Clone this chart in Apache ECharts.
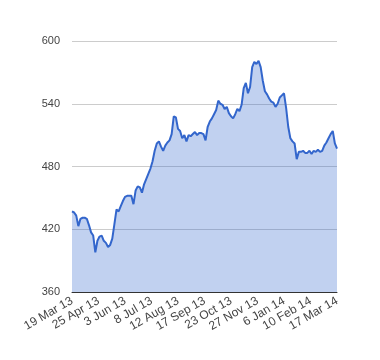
<!DOCTYPE html>
<html>
<head>
<meta charset="utf-8">
<script src="https://cdn.jsdelivr.net/npm/echarts@6/dist/echarts.min.js"></script>
<style>
html,body{margin:0;padding:0;background:#fff;}
#chart{width:380px;height:360px;}
</style>
</head>
<body>
<div id="chart"></div>
<script>
// Tick labels on the x axis (one every 25 trading days)
var tickLabels = ['19 Mar 13','25 Apr 13','3 Jun 13','8 Jul 13','12 Aug 13','17 Sep 13','23 Oct 13','27 Nov 13','6 Jan 14','10 Feb 14','17 Mar 14'];
// Trading days between consecutive sampled values
var sampleStep = 2;
// Closing values, sampled every 2 trading days from 19 Mar 13 to 17 Mar 14
var closeValues = [
  437,436,433,423,430,431,431,430,424,417,
  414,398,409,413,414,409,407,403,405,411,
  425,439,437,442,447,451,452,452,452,444,
  457,461,460,455,463,468,473,478,485,495,
  502,504,499,495,500,503,505,511,528,527,
  516,514,507,510,504,510,509,511,513,510,
  512,512,511,505,518,523,526,530,534,543,
  540,539,535,537,531,528,526,530,535,533,
  539,555,560,550,556,575,580,578,581,575,
  562,552,549,545,542,541,537,540,546,548,
  550,536,518,507,504,502,487,494,494,495,
  493,493,495,492,495,494,496,494,495,500,
  503,507,511,514,502,497
];
var yTicks = {min: 360, max: 600, interval: 60};

var seriesData = closeValues.map(function (v, i) { return [i * sampleStep, v]; });
var lastDay = (closeValues.length - 1) * sampleStep;

var chart = echarts.init(document.getElementById('chart'), null, {renderer: 'canvas'});
chart.setOption({
  animation: false,
  backgroundColor: '#ffffff',
  grid: {left: 72, right: 43, top: 41, bottom: 68, containLabel: false},
  xAxis: {
    type: 'value',
    min: 0,
    max: lastDay,
    interval: 25,
    axisLine: {show: true, lineStyle: {color: '#333333', width: 1}},
    axisTick: {show: false},
    splitLine: {show: false},
    axisLabel: {
      rotate: 30,
      margin: 8,
      showMinLabel: true,
      showMaxLabel: true,
      color: '#444444',
      fontFamily: 'Liberation Sans, Arial, sans-serif',
      fontSize: 12,
      formatter: function (v) { return tickLabels[Math.round(v / 25)] || ''; }
    }
  },
  yAxis: {
    type: 'value',
    min: yTicks.min,
    max: yTicks.max,
    interval: yTicks.interval,
    axisLine: {show: false},
    axisTick: {show: false},
    splitLine: {show: true, lineStyle: {color: '#cccccc', width: 1}},
    axisLabel: {
      margin: 12,
      color: '#444444',
      fontFamily: 'Liberation Sans, Arial, sans-serif',
      fontSize: 11
    }
  },
  series: [{
    type: 'line',
    data: seriesData,
    showSymbol: false,
    smooth: false,
    lineStyle: {color: '#3366cc', width: 2},
    itemStyle: {color: '#3366cc'},
    areaStyle: {color: '#3366cc', opacity: 0.3}
  }]
});
</script>
</body>
</html>
